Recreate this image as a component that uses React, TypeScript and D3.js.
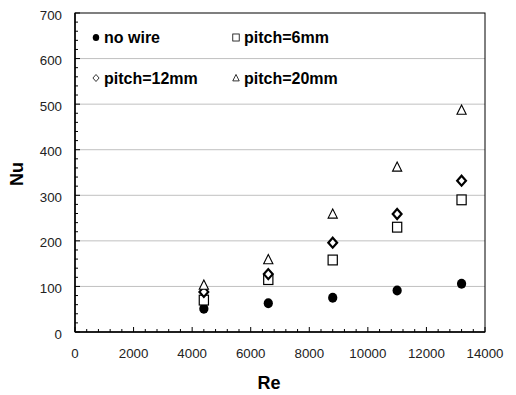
import React from "react";
import * as d3 from "d3";

const reValues = [4400, 6600, 8800, 11000, 13200];
const nuNoWire = [51, 63, 75, 91, 106];
const nuPitch6 = [70, 115, 158, 230, 290];
const nuPitch12 = [88, 127, 196, 259, 332];
const nuPitch20 = [103, 159, 259, 362, 487];
const xTicks = [0, 2000, 4000, 6000, 8000, 10000, 12000, 14000];
const yTicks = [0, 100, 200, 300, 400, 500, 600, 700];

const W = 516;
const H = 395;
const left = 75;
const right = 485;
const top = 13;
const bottom = 332;

const font = "'Liberation Sans', Arial, sans-serif";

function Marker({ kind, x, y, s = 1 }: { kind: string; x: number; y: number; s?: number }) {
  if (kind === "circle") {
    return <ellipse cx={x} cy={y} rx={4.6 * s} ry={5 * s} fill="#000" />;
  }
  if (kind === "square") {
    const h = 4.6 * s;
    return (
      <rect x={x - h} y={y - h - 0.3} width={2 * h} height={2 * h + 0.6} fill="#fff" stroke="#000" strokeWidth={s < 1 ? 0.8 : 1.2} />
    );
  }
  if (kind === "diamond") {
    const h = 4.4 * s;
    const v = 5 * s;
    return (
      <path
        d={`M${x},${y - v}L${x + h},${y}L${x},${y + v}L${x - h},${y}Z`}
        fill="#fff"
        stroke="#000"
        strokeWidth={s < 1 ? 0.8 : 2.2}
      />
    );
  }
  const h = 4.6 * s;
  return (
    <path
      d={`M${x},${y - h * 1.1}L${x + h},${y + h * 0.9}L${x - h},${y + h * 0.9}Z`}
      fill="#fff"
      stroke="#000"
      strokeWidth={s < 1 ? 0.8 : 1.1}
    />
  );
}

export default function App() {
  const x = d3.scaleLinear().domain([0, 14000]).range([left, right]);
  const y = d3.scaleLinear().domain([0, 700]).range([bottom, top]);

  const series = [
    { kind: "circle", values: nuNoWire },
    { kind: "square", values: nuPitch6 },
    { kind: "diamond", values: nuPitch12 },
    { kind: "triangle", values: nuPitch20 },
  ];

  const xMinor = d3.range(0, 14001, 400).filter((v) => v % 2000 !== 0);
  const yMinor = d3.range(0, 701, 20).filter((v) => v % 100 !== 0);

  const legend = [
    { kind: "circle", label: "no wire", lx: 96, ly: 37.5 },
    { kind: "square", label: "pitch=6mm", lx: 236, ly: 37.5 },
    { kind: "diamond", label: "pitch=12mm", lx: 96, ly: 78 },
    { kind: "triangle", label: "pitch=20mm", lx: 236, ly: 78 },
  ];

  return (
    <svg width={W} height={H} style={{ position: "absolute", left: 0, top: 0, background: "#fff" }}>
      <rect x={0} y={0} width={W} height={H} fill="#fff" />
      {/* horizontal gridlines */}
      {yTicks
        .filter((v) => v > 0 && v < 700)
        .map((v) => (
          <line key={"g" + v} x1={left} x2={right} y1={y(v)} y2={y(v)} stroke="#c0c0c0" strokeWidth={1} />
        ))}
      {/* plot frame */}
      <rect x={left} y={top} width={right - left} height={bottom - top} fill="none" stroke="#000" strokeWidth={1} />
      <line x1={left} x2={left} y1={top} y2={bottom} stroke="#000" strokeWidth={1.5} />
      <line x1={left} x2={right} y1={bottom} y2={bottom} stroke="#000" strokeWidth={1.5} />
      {/* x ticks */}
      {xMinor.map((v) => (
        <line key={"xm" + v} x1={x(v)} x2={x(v)} y1={bottom} y2={bottom - 3} stroke="#000" />
      ))}
      {xTicks.map((v) => (
        <line key={"xM" + v} x1={x(v)} x2={x(v)} y1={bottom} y2={bottom - 5} stroke="#000" />
      ))}
      {/* y ticks */}
      {yMinor.map((v) => (
        <line key={"ym" + v} x1={left} x2={left + 3} y1={y(v)} y2={y(v)} stroke="#000" />
      ))}
      {yTicks.map((v) => (
        <line key={"yM" + v} x1={left} x2={left + 5} y1={y(v)} y2={y(v)} stroke="#000" />
      ))}
      {/* tick labels */}
      {xTicks.map((v) => (
        <text key={"xl" + v} x={x(v)} y={bottom + 26} textAnchor="middle" fontFamily={font} fontSize={13.3} fill="#222">
          {v}
        </text>
      ))}
      {yTicks.map((v) => (
        <text key={"yl" + v} x={left - 13} y={y(v) + 6.5} textAnchor="end" fontFamily={font} fontSize={13.3} fill="#222">
          {v}
        </text>
      ))}
      {/* axis titles */}
      <text x={269} y={389} textAnchor="middle" fontFamily={font} fontSize={18} fontWeight="bold" fill="#000">
        Re
      </text>
      <text
        transform={`translate(23,174) rotate(-90)`}
        textAnchor="middle"
        fontFamily={font}
        fontSize={18}
        fontWeight="bold"
        fill="#000"
      >
        Nu
      </text>
      {/* legend */}
      {legend.map((l) => (
        <g key={l.label}>
          <Marker kind={l.kind} x={l.lx} y={l.ly} s={0.7} />
          <text x={l.lx + 8} y={l.ly + 5.5} fontFamily={font} fontSize={16} fontWeight="bold" fill="#000">
            {l.label}
          </text>
        </g>
      ))}
      {/* data points */}
      {series.map((s) =>
        s.values.map((v, i) => <Marker key={s.kind + i} kind={s.kind} x={x(reValues[i])} y={y(v)} />)
      )}
    </svg>
  );
}
